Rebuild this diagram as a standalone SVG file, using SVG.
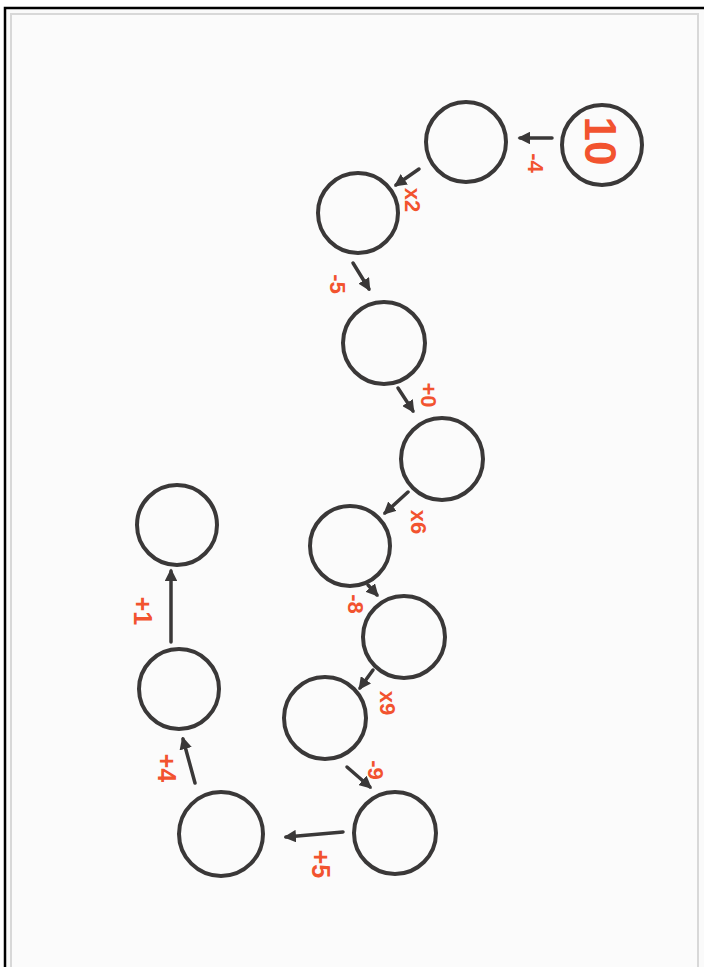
<svg xmlns="http://www.w3.org/2000/svg" width="704" height="967" viewBox="0 0 704 967">
<defs>
<style>
.node{fill:none;stroke:#3a3838;stroke-width:4}
.edge{stroke:#3a3838;stroke-width:3.5;fill:none;stroke-linecap:round}
.lbl{font-family:"Liberation Sans",Arial,sans-serif;font-weight:bold;fill:#f2532f;text-anchor:middle;dominant-baseline:central}
.s{font-size:22px}
.b{font-size:25px}
</style>
<marker id="ah" viewBox="0 0 10 10" refX="8" refY="5" markerWidth="3.6" markerHeight="3.6" orient="auto" markerUnits="strokeWidth">
<path d="M0,0 L10,5 L0,10 z" fill="#3a3838"/>
</marker>
</defs>
<rect x="0" y="0" width="704" height="967" fill="#ffffff"/>
<rect x="5" y="8" width="710" height="980" fill="#fafafa" stroke="#000" stroke-width="2.5"/>
<rect x="11" y="14" width="687" height="970" fill="#fbfbfb" stroke="#d8d8d8" stroke-width="2"/>
<g id="connectors">
<line class="edge" x1="552" y1="138" x2="520" y2="138" marker-end="url(#ah)"/>
<line class="edge" x1="419" y1="169" x2="396" y2="185" marker-end="url(#ah)"/>
<line class="edge" x1="353" y1="263" x2="369" y2="289" marker-end="url(#ah)"/>
<line class="edge" x1="398" y1="388" x2="413" y2="411" marker-end="url(#ah)"/>
<line class="edge" x1="408" y1="492" x2="385" y2="513" marker-end="url(#ah)"/>
<line class="edge" x1="368" y1="585" x2="377" y2="595" marker-end="url(#ah)"/>
<line class="edge" x1="373" y1="670" x2="360" y2="688" marker-end="url(#ah)"/>
<line class="edge" x1="347" y1="767" x2="370" y2="787" marker-end="url(#ah)"/>
<line class="edge" x1="343" y1="832" x2="286" y2="837" marker-end="url(#ah)"/>
<line class="edge" x1="195" y1="783" x2="183" y2="739" marker-end="url(#ah)"/>
<line class="edge" x1="171" y1="642" x2="171" y2="571" marker-end="url(#ah)"/>
</g>
<g id="n1"><circle class="node" cx="602" cy="145" r="40"/><text class="lbl" font-size="44" transform="translate(600,141) rotate(90)">10</text></g>
<g id="n2"><circle class="node" cx="466" cy="142" r="40"/></g>
<g id="n3"><circle class="node" cx="358" cy="213" r="40"/></g>
<g id="n4"><circle class="node" cx="384" cy="343" r="41"/></g>
<g id="n5"><circle class="node" cx="442" cy="459" r="41"/></g>
<g id="n6"><circle class="node" cx="350" cy="546" r="40"/></g>
<g id="n7"><circle class="node" cx="404" cy="637" r="41"/></g>
<g id="n8"><circle class="node" cx="325" cy="718" r="41"/></g>
<g id="n9"><circle class="node" cx="395" cy="833" r="41"/></g>
<g id="n10"><circle class="node" cx="221" cy="834" r="42"/></g>
<g id="n11"><circle class="node" cx="179" cy="689" r="40"/></g>
<g id="n12"><circle class="node" cx="177" cy="525" r="40"/></g>
<g id="labels">
<text class="lbl s" transform="translate(535,163) rotate(90)">-4</text>
<text class="lbl s" transform="translate(412,200) rotate(90)">x2</text>
<text class="lbl s" transform="translate(337,284) rotate(90)">-5</text>
<text class="lbl s" transform="translate(428,395) rotate(90)">+0</text>
<text class="lbl s" transform="translate(418,522) rotate(90)">x6</text>
<text class="lbl s" transform="translate(355,604) rotate(90)">-8</text>
<text class="lbl s" transform="translate(387,703) rotate(90)">x9</text>
<text class="lbl s" transform="translate(375,770) rotate(90)">-9</text>
<text class="lbl b" transform="translate(321,864) rotate(90)">+5</text>
<text class="lbl b" transform="translate(167,768) rotate(90)">+4</text>
<text class="lbl b" transform="translate(143,611) rotate(90)">+1</text>
</g>
</svg>
